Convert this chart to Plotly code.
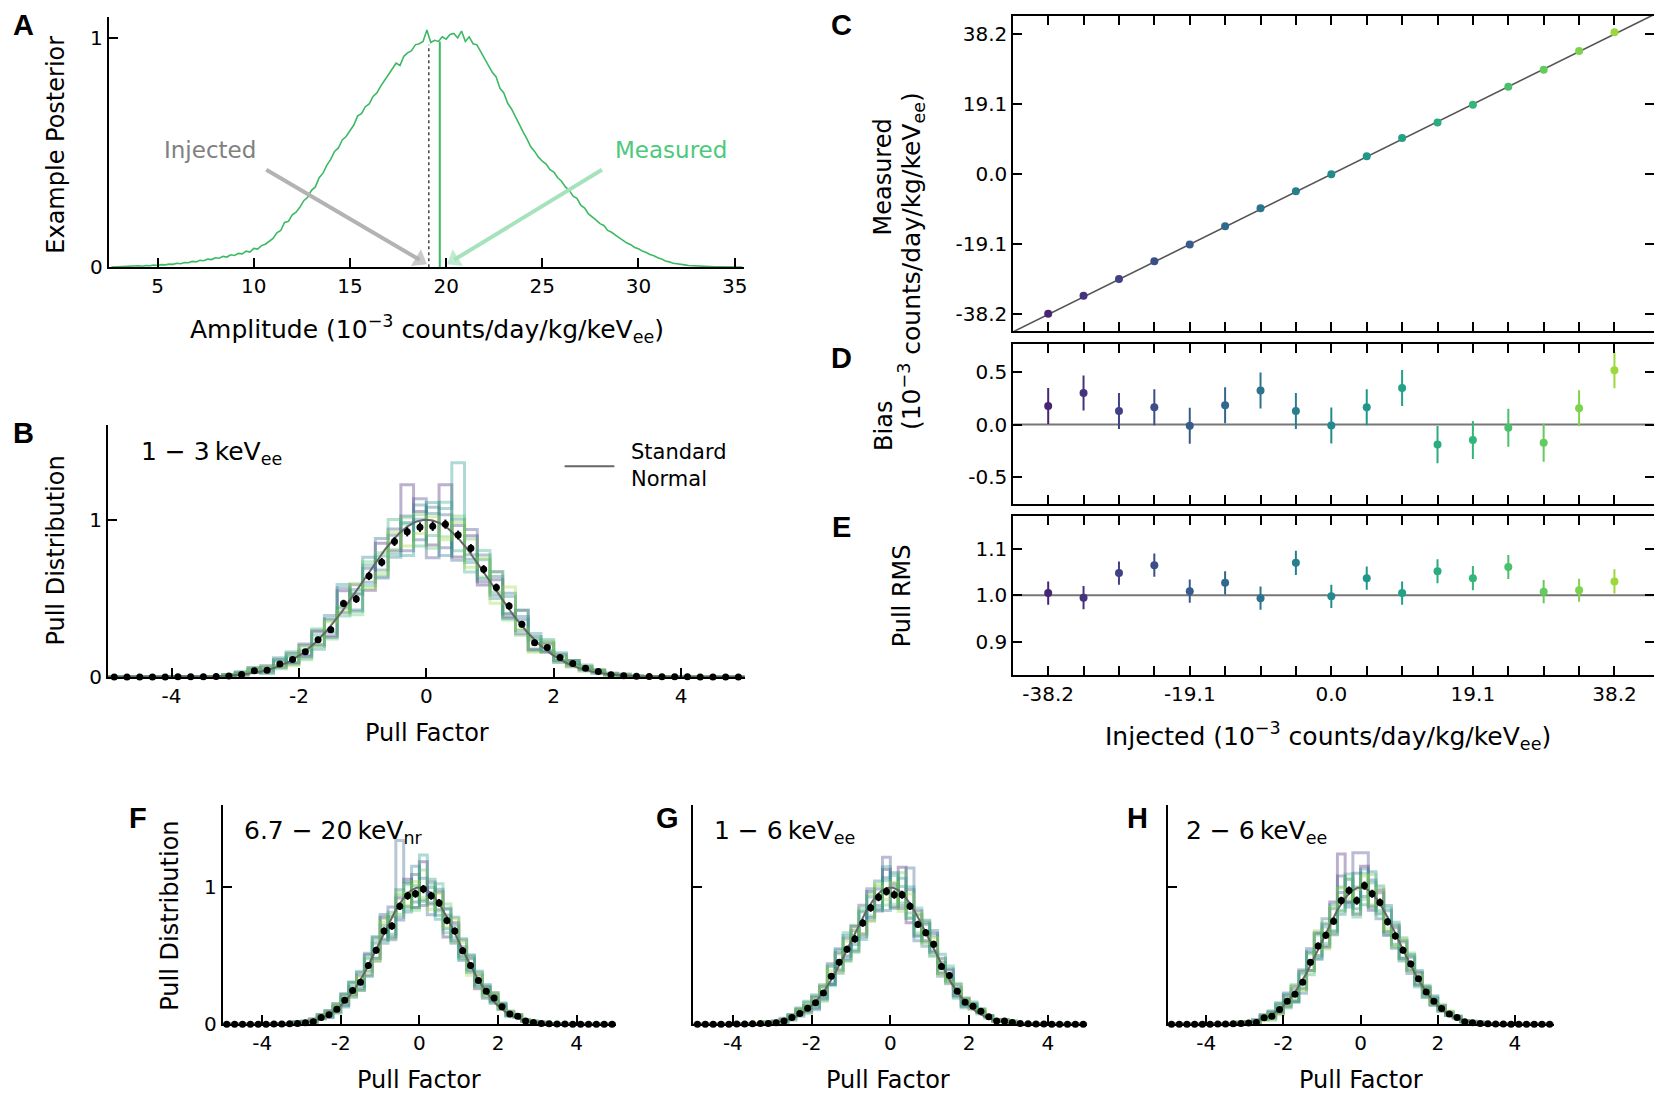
import numpy as np
import plotly.graph_objects as go

# ---------------------------------------------------------------- data
# Panel A: example posterior (sampled every 0.2 starting at 2.6)
amp_start = 2.6
amp_step = 0.2
posterior = [
    0.000, 0.001,
    0.000, 0.003, 0.002, 0.004, 0.003,
    0.006, 0.004, 0.007, 0.006, 0.009,
    0.007, 0.011, 0.010, 0.013, 0.012,
    0.017, 0.015, 0.020, 0.019, 0.025,
    0.023, 0.030, 0.028, 0.035, 0.033,
    0.041, 0.039, 0.047, 0.044, 0.054,
    0.051, 0.060, 0.058, 0.070, 0.066,
    0.082, 0.079, 0.094, 0.100, 0.112,
    0.125, 0.150, 0.160, 0.195, 0.200,
    0.228, 0.240, 0.262, 0.290, 0.305,
    0.335, 0.350, 0.390, 0.410, 0.445,
    0.470, 0.505, 0.520, 0.555, 0.570,
    0.595, 0.620, 0.660, 0.670, 0.700,
    0.712, 0.745, 0.760, 0.790, 0.815,
    0.838, 0.860, 0.890, 0.880, 0.920,
    0.935, 0.945, 0.970, 0.975, 0.985,
    1.035, 0.980, 0.990, 0.985, 1.005,
    0.995, 1.015, 1.020, 1.000, 1.030,
    0.985, 1.005, 0.975, 0.970, 0.940,
    0.915, 0.885, 0.850, 0.830, 0.780,
    0.760, 0.715, 0.690, 0.655, 0.625,
    0.590, 0.560, 0.525, 0.505, 0.480,
    0.462, 0.450, 0.425, 0.415, 0.390,
    0.375, 0.350, 0.335, 0.310, 0.300,
    0.270, 0.258, 0.232, 0.220, 0.205,
    0.190, 0.182, 0.160, 0.152, 0.140,
    0.128, 0.118, 0.105, 0.098, 0.086,
    0.080, 0.070, 0.064, 0.055, 0.050,
    0.041, 0.036, 0.027, 0.023, 0.017,
    0.015, 0.011, 0.010, 0.007, 0.006,
    0.004, 0.005, 0.003, 0.002, 0.003,
    0.001, 0.002, 0.001, 0.000, 0.001,
    0.000, 0.000, 0.000,
]
injected_amp = 19.1
measured_amp = 19.67
injected_line_top = 0.97
measured_line_top = 0.985
inj_arrow_tail = (10.65, 0.425)
inj_arrow_head = (18.62, 0.032)
meas_arrow_tail = (28.1, 0.425)
meas_arrow_head = (20.42, 0.032)
inj_label_pos = (7.7, 0.51)
meas_label_pos = (31.7, 0.51)

# Panels C, D, E
injected = [-38.2, -33.43, -28.65, -23.88, -19.1, -14.33, -9.55, -4.78, 0.0,
            4.78, 9.55, 14.33, 19.1, 23.88, 28.65, 33.43, 38.2]
measured = [-38.03, -33.13, -28.52, -23.72, -19.11, -14.15, -9.23, -4.65, -0.01,
            4.94, 9.89, 14.14, 18.95, 23.85, 28.48, 33.58, 38.71]
bias = [0.175, 0.297, 0.128, 0.162, -0.012, 0.181, 0.322, 0.128, -0.010,
        0.162, 0.344, -0.190, -0.147, -0.031, -0.172, 0.153, 0.512]
bias_err = [0.17, 0.165, 0.17, 0.17, 0.17, 0.17, 0.17, 0.17, 0.17,
            0.17, 0.17, 0.175, 0.18, 0.18, 0.18, 0.17, 0.17]
pull_rms = [1.005, 0.995, 1.048, 1.065, 1.009, 1.027, 0.994, 1.070, 0.998,
            1.037, 1.005, 1.052, 1.037, 1.061, 1.008, 1.011, 1.030]
rms_err = [0.025, 0.025, 0.025, 0.025, 0.025, 0.025, 0.025, 0.026, 0.025,
           0.025, 0.025, 0.026, 0.026, 0.026, 0.025, 0.025, 0.026]
inj_tick_vals = [-38.2, -19.1, 0.0, 19.1, 38.2]
inj_tick_text = ['-38.2', '-19.1', '0.0', '19.1', '38.2']
c_ytick_vals = [-38.2, -19.1, 0.0, 19.1, 38.2]
c_ytick_text = ['-38.2', '-19.1', '0.0', '19.1', '38.2']
d_ytick_vals = [-0.5, 0.0, 0.5]
d_ytick_text = ['-0.5', '0.0', '0.5']
e_ytick_vals = [0.9, 1.0, 1.1]
e_ytick_text = ['0.9', '1.0', '1.1']

# Pull distributions: 50 bins of width 0.2 on [-5, 5]
pull_lo, pull_hi, n_bins = -5.0, 5.0, 50
pull_ticks = [-4, -2, 0, 2, 4]
pull_ticktext = ['-4', '-2', '0', '2', '4']

pull_err = [0.001, 0.001, 0.001, 0.001, 0.002, 0.002, 0.003, 0.004, 0.005, 0.006,
            0.007, 0.009, 0.011, 0.013, 0.015, 0.017, 0.019, 0.021, 0.023, 0.025,
            0.026, 0.027, 0.028, 0.029, 0.030, 0.030, 0.029, 0.028, 0.027, 0.026,
            0.025, 0.023, 0.021, 0.019, 0.017, 0.015, 0.013, 0.011, 0.009, 0.007,
            0.006, 0.005, 0.004, 0.003, 0.002, 0.002, 0.001, 0.001, 0.001, 0.001]

mean_B = [0, 0, 0, 0, 0, 0.001, 0.002, 0.002, 0.003, 0.006,
          0.015, 0.039, 0.043, 0.082, 0.111, 0.160, 0.237, 0.301, 0.468, 0.496,
          0.642, 0.730, 0.861, 0.923, 0.953, 0.959, 0.972, 0.903, 0.818, 0.685,
          0.569, 0.452, 0.335, 0.217, 0.188, 0.124, 0.085, 0.056, 0.034, 0.014,
          0.008, 0.004, 0.003, 0.002, 0.001, 0.001, 0, 0, 0, 0]
mean_F = [0, 0, 0, 0, 0, 0.001, 0.002, 0.003, 0.004, 0.007,
          0.012, 0.019, 0.050, 0.070, 0.110, 0.176, 0.248, 0.308, 0.429, 0.542,
          0.682, 0.718, 0.863, 0.940, 0.954, 0.988, 0.940, 0.887, 0.759, 0.682,
          0.537, 0.429, 0.320, 0.241, 0.193, 0.128, 0.075, 0.060, 0.024, 0.014,
          0.007, 0.004, 0.003, 0.002, 0.001, 0.001, 0, 0, 0, 0]
mean_G = [0, 0, 0, 0, 0.001, 0.002, 0.003, 0.004, 0.006, 0.007,
          0.012, 0.024, 0.050, 0.080, 0.118, 0.157, 0.229, 0.352, 0.453, 0.549,
          0.624, 0.740, 0.851, 0.928, 0.971, 0.947, 0.947, 0.863, 0.730, 0.670,
          0.585, 0.422, 0.357, 0.241, 0.161, 0.133, 0.096, 0.055, 0.024, 0.024,
          0.014, 0.007, 0.004, 0.003, 0.002, 0.001, 0, 0, 0, 0]
mean_H = [0, 0, 0, 0, 0, 0.001, 0.002, 0.003, 0.004, 0.006,
          0.009, 0.014, 0.048, 0.060, 0.108, 0.169, 0.219, 0.308, 0.453, 0.573,
          0.651, 0.754, 0.904, 0.978, 0.904, 1.014, 0.954, 0.891, 0.749, 0.646,
          0.542, 0.441, 0.333, 0.236, 0.169, 0.116, 0.075, 0.050, 0.019, 0.012,
          0.007, 0.004, 0.003, 0.002, 0.001, 0.001, 0, 0, 0, 0]

# Individual pull histograms: deviation from the mean (x0.01) in the 32
# central bins (centres -3.1 ... 3.1); outer bins follow the mean.
dev_first_bin = 9
dev_B = [
    [0, 1, -1, 2, -2, 4, -3, 5, -4, 8, 3, -9, 12, -6, 30, 10, -12, 25, -14, 8, -10, 5, -7, 9, -4, 3, -2, 2, -1, 1, 0, 1],
    [1, -1, 2, 0, 3, -2, 5, -3, 7, -6, 9, 5, -10, 8, -12, 18, -20, -15, 6, 12, -8, 10, -5, -6, 4, -3, 2, -1, 1, 0, 1, 0],
    [0, 0, 1, -2, 2, -3, -2, 6, -5, 10, -7, -4, 15, 4, 10, -8, 12, 6, -16, -7, 9, -5, 8, 3, -5, 2, -3, 2, 0, -1, 0, 0],
    [1, 1, -1, 3, -1, 2, 4, -4, 9, -3, 6, 12, -5, -10, 6, 14, 8, -20, 10, -4, -6, 7, -8, 5, 2, -3, 1, -2, 2, 0, 0, 1],
    [0, 2, 0, -1, 4, -2, 1, -6, -2, 12, -8, 7, 4, -8, -15, 5, 15, 10, 46, -9, 6, -7, 6, -4, 6, -2, 3, 0, -1, 1, 0, 0],
    [1, 0, 2, 1, -3, 5, -4, 3, 6, -8, 4, -6, -9, 14, 5, -12, -6, 14, -10, -15, 12, -3, -5, 9, -4, 5, -2, 1, 1, -1, 1, 0],
    [0, 1, 0, -2, 2, 3, -5, 7, -6, -2, -10, 9, 6, -5, 9, 8, -14, -8, 12, 6, -5, 10, -9, -7, 3, 4, -3, 2, -2, 1, 0, 0],
    [1, 0, 1, 2, -2, -4, 3, -4, 5, -5, 10, -8, -7, 6, -9, -4, 6, -10, 8, -12, 7, -10, 12, -3, -6, 2, 1, -2, 1, 0, -1, 1],
]
dev_F = [
    [1, 0, 2, -1, 3, -2, 4, -3, -5, 8, -6, 10, -8, 6, 12, -10, 20, -6, 8, -12, 6, -4, 5, -6, 3, -2, 2, -1, 1, 0, 0, 1],
    [0, 1, -1, 2, -2, 3, -4, 6, 5, -7, 9, -6, 14, -10, -8, 14, -12, 10, -5, 9, -7, 8, -3, 4, -5, 3, -1, 2, 0, 1, 0, 0],
    [1, -1, 1, 0, 2, 4, -3, -5, 7, -4, -8, 12, -10, 48, 10, -6, 8, -14, 10, 4, -9, 3, 7, -4, 4, -3, 2, 0, -1, 0, 1, 0],
    [0, 1, 0, 2, -1, -2, 5, 3, -6, 9, 5, -9, 7, 12, -12, 20, -8, 6, -9, -6, 10, -7, -5, 6, -2, 4, -2, 1, 1, 0, 0, 0],
    [1, 0, 1, -1, 3, 2, -5, 6, -3, -8, 10, 4, -6, -8, 9, -10, 25, 12, -12, 8, 4, -6, 8, -3, 5, -4, 1, -1, 0, 1, 0, 1],
    [0, 0, 2, 1, -2, 4, 2, -4, 8, 5, -6, -7, 10, 8, -10, 6, -9, -5, 14, -9, -5, 9, -4, 7, -4, 2, 3, -2, 1, 0, 1, 0],
    [1, 1, -1, 2, 1, -3, 4, 5, -6, 6, 7, 9, -9, -6, 8, -12, 14, 8, -6, 12, -8, -5, 6, -5, 3, -3, -2, 2, 0, 1, 0, 0],
    [0, 0, 1, -1, 2, 3, -2, -4, 4, -5, -8, 6, 8, 10, -7, 9, -6, -10, 7, -5, 9, 6, -7, 4, -3, 4, -1, 1, 1, 0, 0, 1],
]
dev_G = [
    [0, 1, 1, -1, 2, -3, 4, 5, -6, 7, -5, 9, -8, 12, -10, 16, -9, 20, -12, 10, -6, 8, -5, 4, -3, 3, -2, 1, 0, 1, 0, 0],
    [1, 0, -1, 2, 3, 2, -4, -5, 9, -6, 8, -9, 13, -7, 6, 25, 8, -10, 12, -8, 7, -5, 6, -4, 5, -2, 1, 0, 1, 0, 1, 0],
    [0, 1, 2, 1, -2, 4, 5, -3, -6, 10, -8, 6, -10, 14, -6, 10, 16, -8, 28, -12, 9, -6, 3, -6, 2, -3, 2, -1, 0, 0, 0, 1],
    [1, 1, 0, 2, 4, -2, -5, 6, 7, -8, 10, -4, 8, -9, 12, -14, 6, 12, -9, 7, -10, 10, -7, 5, -4, 2, 3, -1, 1, 0, 0, 0],
    [0, 0, 1, -2, 3, 5, -3, -4, -5, 9, -7, 10, -12, 8, -8, 18, -10, 6, 14, -9, 6, -8, 9, -3, 3, -4, -1, 2, 0, 1, 1, 0],
    [1, 0, -1, 1, -1, 2, 6, 4, -7, -5, 12, -8, 9, -6, -9, 8, 14, -6, -5, 12, -7, 6, -4, 7, -5, 3, 1, -2, 1, 0, 0, 1],
    [0, 1, 1, 2, 2, -4, -2, -6, 8, 6, -9, -10, 11, 10, 8, -10, -7, 16, -8, -6, 8, -9, 5, -5, 6, -2, 2, 1, -1, 1, 0, 0],
    [1, 0, 0, -1, 3, 3, 3, 5, 4, -7, 6, 8, -8, -10, 10, -6, 9, -12, 9, 8, -8, 5, -6, -4, 2, 3, -2, 1, 0, 0, 1, 0],
]
dev_H = [
    [0, 1, -1, 2, 3, -2, 4, -5, 8, -6, 9, -8, 14, 34, -9, -10, 14, -12, 9, -7, 8, -6, 5, -4, 3, -2, 2, -1, 1, 0, 0, 1],
    [1, 0, 2, 1, -2, 4, -4, 6, -5, 10, -7, 8, -10, 18, -8, 35, 24, -9, 7, -10, 6, 7, -5, 5, -3, 3, -1, 1, 0, 1, 0, 0],
    [0, 1, 1, -1, 3, -3, 6, 4, -8, 7, -9, 12, -7, 6, -12, 20, -8, 10, -12, 8, -9, 6, -7, 4, 4, -3, 2, 0, 1, 0, 1, 0],
    [1, 0, -1, 2, -1, 5, -3, -5, 9, -6, 10, -9, 9, -10, 8, -6, 12, 16, -8, 12, -6, -8, 7, -5, 3, 2, -2, 1, -1, 0, 0, 0],
    [0, 0, 2, 1, 2, -2, 5, -6, 6, 8, -10, 6, 12, -7, -10, 10, -14, 8, 12, -9, 10, -6, -4, 6, -4, 4, 1, -1, 1, 1, 0, 0],
    [1, 1, 0, -1, 4, 3, -5, 7, -4, -9, 8, -6, -8, 10, 12, -12, 9, -10, -6, 10, -8, 9, 6, -6, 5, -3, -2, 2, 0, 0, 0, 1],
    [0, 1, 1, 2, -3, 4, 3, -4, 7, 6, -8, 9, -9, -8, 9, -9, -10, 14, -9, -8, 7, -7, 8, -3, -4, 2, 3, -1, 1, 0, 1, 0],
    [1, 0, 0, -2, 2, -4, -3, 6, -6, -7, 11, -10, 10, 9, -6, 8, 7, -8, 10, -5, -7, 8, -5, 3, 3, -2, 1, 2, 0, 1, 0, 0],
]

panel_text = {
    'B': '1 \u2212 3\u2009keV<sub>ee</sub>',
    'F': '6.7 \u2212 20\u2009keV<sub>nr</sub>',
    'G': '1 \u2212 6\u2009keV<sub>ee</sub>',
    'H': '2 \u2212 6\u2009keV<sub>ee</sub>',
}

# ---------------------------------------------------------------- style
FONT = "DejaVu Sans"
LETTER_FONT = "Liberation Sans, Arial, sans-serif"
GREEN = '#3cb963'
VIRIDIS = ['#440154', '#482878', '#3e4989', '#31688e', '#26828e',
           '#1f9e89', '#35b779', '#6ece58', '#b5de2b', '#fde725']


def viridis_at(t):
    t = min(max(t, 0.0), 1.0) * (len(VIRIDIS) - 1)
    i = min(int(t), len(VIRIDIS) - 2)
    f = t - i
    a = [int(VIRIDIS[i][k:k + 2], 16) for k in (1, 3, 5)]
    b = [int(VIRIDIS[i + 1][k:k + 2], 16) for k in (1, 3, 5)]
    return tuple(round(a[k] + (b[k] - a[k]) * f) for k in range(3))


def viridis_list(n, lo=0.1, hi=0.85):
    return [viridis_at(lo + (hi - lo) * i / (n - 1)) for i in range(n)]


pt_colors = ['rgb(%d,%d,%d)' % c for c in viridis_list(len(injected))]
hist_colors = ['rgba(%d,%d,%d,0.36)' % c for c in viridis_list(len(dev_B))]

edges = list(np.linspace(pull_lo, pull_hi, n_bins + 1))
centers = [(edges[i] + edges[i + 1]) / 2 for i in range(n_bins)]
norm_x = np.linspace(pull_lo, pull_hi, 401)
norm_y = np.exp(-0.5 * norm_x ** 2)   # standard normal, peak-normalised

fig = go.Figure()

# ---------------------------------------------------------------- panel A
x_amp = [amp_start + amp_step * i for i in range(len(posterior))]
fig.add_trace(go.Scatter(x=x_amp, y=posterior, mode='lines',
                         line=dict(color=GREEN, width=1.6), xaxis='x', yaxis='y'))
fig.add_trace(go.Scatter(x=[injected_amp, injected_amp], y=[0, injected_line_top], mode='lines',
                         line=dict(color='#444444', width=1.5, dash='dot'), xaxis='x', yaxis='y'))
fig.add_trace(go.Scatter(x=[measured_amp, measured_amp], y=[0, measured_line_top], mode='lines',
                         line=dict(color=GREEN, width=2), xaxis='x', yaxis='y'))
# arrows (line + oriented triangle head)
for tail, head, col in [(inj_arrow_tail, inj_arrow_head, '#b3b3b3'),
                        (meas_arrow_tail, meas_arrow_head, '#a6e3bc')]:
    fig.add_trace(go.Scatter(x=[tail[0], head[0]], y=[tail[1], head[1]], mode='lines+markers',
                             line=dict(color=col, width=4),
                             marker=dict(symbol=['circle', 'triangle-up'], size=[0, 17],
                                         color=col, angleref='previous', line=dict(width=0)),
                             cliponaxis=False, xaxis='x', yaxis='y'))


# ---------------------------------------------------------------- pull panels
def hist_vals(mean, dev):
    vals = list(mean)
    for k, d in enumerate(dev):
        vals[dev_first_bin + k] = max(0.0, mean[dev_first_bin + k] + d / 100.0)
    return vals


def add_pull(mean, devs, xa, ya):
    for dev, col in zip(devs, hist_colors):
        vals = hist_vals(mean, dev)
        fig.add_trace(go.Scatter(x=edges, y=vals + [vals[-1]], mode='lines',
                                 line=dict(color=col, width=3, shape='hv'),
                                 xaxis=xa, yaxis=ya, hoverinfo='skip'))
    fig.add_trace(go.Scatter(x=norm_x, y=norm_y, mode='lines',
                             line=dict(color='#666666', width=2), xaxis=xa, yaxis=ya))
    fig.add_trace(go.Scatter(x=centers, y=mean, mode='markers',
                             marker=dict(color='black', size=7),
                             error_y=dict(type='data', array=pull_err, color='black',
                                          thickness=2, width=0),
                             cliponaxis=False, xaxis=xa, yaxis=ya))


add_pull(mean_B, dev_B, 'x2', 'y2')
add_pull(mean_F, dev_F, 'x6', 'y6')
add_pull(mean_G, dev_G, 'x7', 'y7')
add_pull(mean_H, dev_H, 'x8', 'y8')

# ---------------------------------------------------------------- panels C, D, E
C_XR = [-42.9, 43.5]
C_YR = [-42.83, 43.2]
fig.add_trace(go.Scatter(x=[-50, 50], y=[-50, 50], mode='lines',
                         line=dict(color='#555555', width=1.6), xaxis='x3', yaxis='y3'))
fig.add_trace(go.Scatter(x=injected, y=measured, mode='markers',
                         marker=dict(color=pt_colors, size=8), xaxis='x3', yaxis='y3'))

fig.add_trace(go.Scatter(x=[-50, 50], y=[0, 0], mode='lines',
                         line=dict(color='#777777', width=2), xaxis='x4', yaxis='y4'))
fig.add_trace(go.Scatter(x=[-50, 50], y=[1, 1], mode='lines',
                         line=dict(color='#777777', width=2), xaxis='x5', yaxis='y5'))
for i in range(len(injected)):
    fig.add_trace(go.Scatter(x=[injected[i]], y=[bias[i]], mode='markers',
                             marker=dict(color=pt_colors[i], size=8),
                             error_y=dict(type='data', array=[bias_err[i]], color=pt_colors[i],
                                          thickness=2, width=0),
                             xaxis='x4', yaxis='y4'))
    fig.add_trace(go.Scatter(x=[injected[i]], y=[pull_rms[i]], mode='markers',
                             marker=dict(color=pt_colors[i], size=8),
                             error_y=dict(type='data', array=[rms_err[i]], color=pt_colors[i],
                                          thickness=2, width=0),
                             xaxis='x5', yaxis='y5'))


# ---------------------------------------------------------------- axes
def axis(**kw):
    d = dict(showgrid=False, zeroline=False, showline=True, linecolor='black', linewidth=2,
             ticks='inside', ticklen=9, tickwidth=1.5, tickcolor='black',
             tickfont=dict(family=FONT, size=20, color='black'))
    d.update(kw)
    return d


inj_minor = dict(tickmode='array', tickvals=injected, ticks='inside', ticklen=9,
                 tickwidth=1.5, tickcolor='black', showgrid=False)

PULL_Y = [0.0752, 0.2745]
CX = [0.606, 0.992]
layout_axes = dict(
    xaxis=axis(domain=[0.0607, 0.4438], range=[2.457, 35.5], anchor='y',
               tickvals=[5, 10, 15, 20, 25, 30, 35]),
    yaxis=axis(domain=[0.7642, 0.9915], range=[0, 1.09], anchor='x', tickvals=[0, 1]),
    xaxis2=axis(domain=[0.0602, 0.4441], range=[pull_lo, pull_hi], anchor='y2',
                tickvals=pull_ticks, ticktext=pull_ticktext),
    yaxis2=axis(domain=[0.3913, 0.6202], range=[0, 1.6], anchor='x2', tickvals=[0, 1]),
    xaxis3=axis(domain=CX, range=C_XR, anchor='y3', mirror='allticks',
                tickvals=inj_tick_vals, showticklabels=False, minor=inj_minor),
    yaxis3=axis(domain=[0.7057, 0.9929], range=C_YR, anchor='x3', mirror='allticks',
                tickvals=c_ytick_vals, ticktext=c_ytick_text),
    xaxis4=axis(domain=CX, range=C_XR, anchor='y4', mirror='allticks',
                tickvals=inj_tick_vals, showticklabels=False, minor=inj_minor),
    yaxis4=axis(domain=[0.5488, 0.6939], range=[-0.75, 0.757], anchor='x4', mirror='allticks',
                tickvals=d_ytick_vals, ticktext=d_ytick_text),
    xaxis5=axis(domain=CX, range=C_XR, anchor='y5', mirror='allticks',
                tickvals=inj_tick_vals, ticktext=inj_tick_text, minor=inj_minor),
    yaxis5=axis(domain=[0.3933, 0.5374], range=[0.829, 1.17], anchor='x5', mirror='allticks',
                tickvals=e_ytick_vals, ticktext=e_ytick_text),
    xaxis6=axis(domain=[0.1295, 0.3665], range=[pull_lo, pull_hi], anchor='y6',
                tickvals=pull_ticks, ticktext=pull_ticktext),
    yaxis6=axis(domain=PULL_Y, range=[0, 1.6], anchor='x6', tickvals=[0, 1]),
    xaxis7=axis(domain=[0.4132, 0.6505], range=[pull_lo, pull_hi], anchor='y7',
                tickvals=pull_ticks, ticktext=pull_ticktext),
    yaxis7=axis(domain=PULL_Y, range=[0, 1.6], anchor='x7', tickvals=[0, 1],
                showticklabels=False),
    xaxis8=axis(domain=[0.699, 0.9316], range=[pull_lo, pull_hi], anchor='y8',
                tickvals=pull_ticks, ticktext=pull_ticktext),
    yaxis8=axis(domain=PULL_Y, range=[0, 1.6], anchor='x8', tickvals=[0, 1],
                showticklabels=False),
)

# ---------------------------------------------------------------- annotations
UNIT = '(10<sup>\u22123</sup> counts/day/kg/keV<sub>ee</sub>)'
ann = []


def ptext(x, y, text, size=24, angle=0, xanchor='center', yanchor='middle', color='black',
          family=FONT, align='center'):
    ann.append(dict(x=x, y=y, xref='paper', yref='paper', text=text, showarrow=False,
                    textangle=angle, xanchor=xanchor, yanchor=yanchor, align=align,
                    font=dict(family=family, size=size, color=color)))


# axis titles
ptext(0.0292, 0.876, 'Example Posterior', angle=-90)
ptext(0.2524, 0.7075, 'Amplitude ' + UNIT, size=25)
ptext(0.0292, 0.5067, 'Pull Distribution', angle=-90)
ptext(0.2524, 0.3407, 'Pull Factor')
ptext(0.5276, 0.8460, 'Measured', angle=-90)
ptext(0.5445, 0.7700, UNIT, angle=-90, size=25)
ptext(0.5276, 0.6200, 'Bias', angle=-90)
ptext(0.5391, 0.4650, 'Pull RMS', angle=-90)
ptext(0.7957, 0.3380, 'Injected ' + UNIT, size=25)
ptext(0.0980, 0.1737, 'Pull Distribution', angle=-90)
ptext(0.2479, 0.0248, 'Pull Factor')
ptext(0.5304, 0.0248, 'Pull Factor')
ptext(0.8155, 0.0248, 'Pull Factor')

# panel letters
for letter, (lx, ly) in {'A': (0.0095, 0.9845), 'B': (0.0095, 0.6135), 'C': (0.5025, 0.9845),
                         'D': (0.5025, 0.6815), 'E': (0.5025, 0.5280), 'F': (0.0784, 0.2630),
                         'G': (0.3973, 0.2630), 'H': (0.6811, 0.2630)}.items():
    ptext(lx, ly, '<b>%s</b>' % letter, size=29, family=LETTER_FONT)

# energy range labels
ptext(0.0790, 0.5955, panel_text['B'], size=25, xanchor='left')
ptext(0.1410, 0.2505, panel_text['F'], size=25, xanchor='left')
ptext(0.4245, 0.2505, panel_text['G'], size=25, xanchor='left')
ptext(0.7090, 0.2505, panel_text['H'], size=25, xanchor='left')

# legend of panel B
ptext(0.3745, 0.584, 'Standard<br>Normal', size=21, xanchor='left', align='left')
shapes = [dict(type='line', xref='paper', yref='paper', x0=0.3355, x1=0.3655, y0=0.583, y1=0.583,
               line=dict(color='#666666', width=2))]

# panel A labels
ann.append(dict(x=inj_label_pos[0], y=inj_label_pos[1], xref='x', yref='y', text='Injected',
                showarrow=False, font=dict(family=FONT, size=23, color='#808080')))
ann.append(dict(x=meas_label_pos[0], y=meas_label_pos[1], xref='x', yref='y', text='Measured',
                showarrow=False, font=dict(family=FONT, size=23, color='#4cc97a')))

fig.update_layout(width=1662, height=1111, margin=dict(l=0, r=0, t=0, b=0),
                  showlegend=False, plot_bgcolor='white', paper_bgcolor='white',
                  font=dict(family=FONT, color='black'),
                  annotations=ann, shapes=shapes, **layout_axes)

fig.write_html("out.html")
